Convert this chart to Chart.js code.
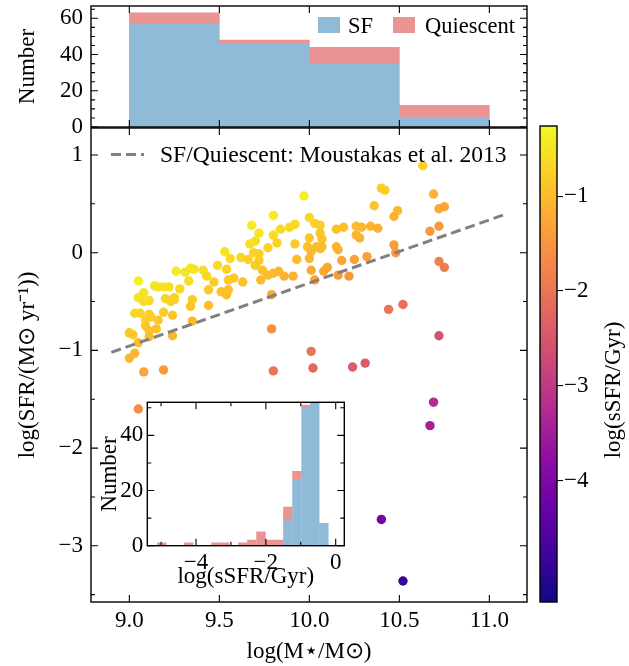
<!DOCTYPE html>
<html>
<head>
<meta charset="utf-8">
<script src="https://cdn.jsdelivr.net/npm/chart.js@4.4.1/dist/chart.umd.min.js"></script>
<style>
body { margin: 0; background: #fff; }
#stack { position: relative; width: 629px; height: 666px; overflow: hidden; }
#stack canvas { position: absolute; left: 0; top: 0; }
</style>
</head>
<body>
<div id="stack">
  <canvas id="cTop" width="629" height="666"></canvas>
  <canvas id="cMain" width="629" height="666"></canvas>
  <canvas id="cBar" width="629" height="666"></canvas>
  <canvas id="cInset" width="629" height="666"></canvas>
</div>
<script>
// 散布図のデータ (log M*, log SFR)
var logMass = [
  9.05, 9.26, 9.31, 9.34, 9.36, 9.41, 9.43, 9.33, 9.47, 9.44,
  9.14, 9.16, 9.19, 9.22, 9.28, 9.08, 9.05, 9.11, 9.08, 9.20,
  9.25, 9.23, 9.25, 9.35, 9.34, 9.44, 9.03, 9.06, 9.11, 9.19,
  9.24, 9.09, 9.12, 9.16, 9.09, 9.15, 9.35, 9.11, 9.00, 9.02,
  9.11, 9.24, 9.05, 9.03, 9.00, 9.08, 9.19,
  9.97, 9.80, 9.68, 9.72, 9.80, 9.84, 9.89, 9.92,
  9.70, 9.67, 9.82, 9.77, 9.92,
  9.53, 9.56, 9.62, 9.66, 9.69, 9.72, 9.72, 9.70, 9.93, 9.49, 9.54, 9.74, 9.77, 9.80, 9.83, 9.86, 9.91,
  9.58, 9.55, 9.63, 9.73,
  9.51, 9.54, 9.55, 9.79, 9.79, 9.80,
  10.40, 10.42, 10.36, 10.49, 10.47, 10.00, 10.03, 10.06, 10.06, 10.07,
  10.00, 10.15, 10.19, 10.26, 10.29, 10.34, 10.38, 10.26, 10.28, 9.99,
  10.01, 10.04, 10.06, 10.07, 10.16, 10.15, 10.00, 10.18, 10.25, 10.32,
  10.47, 10.48, 10.01, 10.08, 10.10, 10.16, 10.22, 10.03, 10.44, 10.52,
  10.01, 10.02, 10.24, 10.31,
  10.63, 10.69, 10.72, 10.75, 10.72, 10.67, 10.72, 10.75, 10.72,
  9.05, 10.69, 10.67, 10.40, 10.52
];
var logSFR = [
  -0.29, -0.19, -0.20, -0.16, -0.17, -0.18, -0.24, -0.29, -0.30, -0.38,
  -0.34, -0.35, -0.35, -0.35, -0.37, -0.41, -0.46, -0.49, -0.50, -0.47,
  -0.46, -0.50, -0.48, -0.48, -0.55, -0.54, -0.62, -0.62, -0.63, -0.61,
  -0.64, -0.69, -0.66, -0.69, -0.75, -0.78, -0.70, -0.80, -0.82, -0.84,
  -0.86, -0.85, -0.92, -1.03, -1.08, -1.22, -1.20,
  0.58, 0.38, 0.28, 0.20, 0.18, 0.24, 0.26, 0.29,
  0.12, 0.09, 0.10, 0.05, 0.09,
  0.01, -0.06, -0.05, -0.07, 0.00, -0.01, -0.08, -0.13, -0.07, -0.13, -0.17, -0.18, -0.23, -0.21, -0.19, -0.24, -0.24,
  -0.26, -0.28, -0.30, -0.28,
  -0.40, -0.43, -0.38, -0.43, -0.78, -1.21,
  0.66, 0.64, 0.48, 0.43, 0.37, 0.36, 0.30, 0.28, 0.20, 0.14,
  0.15, 0.24, 0.26, 0.27, 0.26, 0.27, 0.25, 0.18, 0.15, 0.06,
  0.01, 0.06, 0.04, 0.06, 0.03, 0.06, -0.06, -0.08, -0.07, -0.04,
  0.08, 0.00, -0.18, -0.19, -0.15, -0.23, -0.24, -0.28, -0.58, -0.53,
  -1.01, -1.18, -1.17, -1.13,
  0.89, 0.60, 0.45, 0.47, 0.27, 0.22, -0.09, -0.15, -0.85,
  -1.60, -1.53, -1.77, -2.73, -3.36
];

// SF/Quiescent の境界線 (Moustakas et al. 2013)
var cutMass = [8.90, 11.10];
var cutSFR = [-1.02, 0.40];

// 上のヒストグラム (質量ビン)
var massBins = [9.25, 9.75, 10.25, 10.75];
var massSF = [57, 46, 35, 5];
var massQ = [6, 2, 9, 7];

// 挿入図のヒストグラム (sSFRビン)
var ssfrBins = [-4.98, -4.72, -4.47, -4.21, -3.95, -3.69, -3.43, -3.18, -2.92, -2.66,
                -2.40, -2.14, -1.89, -1.63, -1.37, -1.11, -0.85, -0.60, -0.34];
var ssfrSF = [0, 0, 0, 0, 0, 0, 0, 0, 0, 0, 0, 0, 0, 0, 9, 24, 50, 53, 8];
var ssfrQ  = [1, 0, 0, 1, 0, 0, 1, 1, 0, 1, 2, 5, 2, 2, 5, 3, 1, 0, 0];

// 目盛り
var mainXTicks = [9.0, 9.5, 10.0, 10.5, 11.0];
var mainYTicks = [-3, -2, -1, 0, 1];
var mainYMinor = [-3.5, -2.5, -1.5, -0.5, 0.5];
var topYTicks = [0, 20, 40, 60];
var topYMinor = [5, 10, 15, 25, 30, 35, 45, 50, 55, 65];
var insetXTicks = [-4, -2, 0];
var insetXMinor = [-5, -3, -1];
var insetYTicks = [0, 20, 40];
var insetYMinor = [10, 30, 50];
var cbarTicks = [-4, -3, -2, -1];
var cbarMin = -5.28;
var cbarMax = -0.26;

// plasma カラーマップ
var plasmaStops = ['#0d0887', '#41049d', '#6a00a8', '#8f0da4', '#b12a90', '#cc4778',
                   '#e16462', '#f2844b', '#fca636', '#fcce25', '#f0f921'];
function hex2rgb(h) {
  return [1, 3, 5].map(function(i){ return parseInt(h.substr(i, 2), 16); });
}
function plasma(t) {
  t = Math.min(1, Math.max(0, t));
  var n = plasmaStops.length - 1;
  var f = t * n;
  var i = Math.min(n - 1, Math.floor(f));
  var r = f - i;
  var a = hex2rgb(plasmaStops[i]), b = hex2rgb(plasmaStops[i + 1]);
  return 'rgb(' + a.map(function(v, k){ return Math.round(v + (b[k] - v) * r); }).join(',') + ')';
}

var blue = 'rgb(143,187,217)';
var red = 'rgb(234,147,147)';
var minus = function(v){ return String(v).replace('-', '\u2212'); };
// 目盛りラベルによる余白を消す
var noPad = function(s){ s.paddingTop = 0; s.paddingBottom = 0; s.paddingLeft = 0; s.paddingRight = 0; };

Chart.defaults.font.family = '"Liberation Serif", serif';
Chart.defaults.font.size = 23;
Chart.defaults.color = '#000';
Chart.defaults.animation = false;

// 枠と内向きの目盛りを描くプラグイン
var frameTicks = {
  id: 'frameTicks',
  beforeDatasetsDraw: function(chart, args, o) {
    if (!o.fill) return;
    var a = chart.chartArea, ctx = chart.ctx;
    ctx.save();
    ctx.fillStyle = o.fill;
    ctx.fillRect(a.left, a.top, a.right - a.left, a.bottom - a.top);
    ctx.restore();
  },
  afterDatasetsDraw: function(chart, args, o) {
    var ctx = chart.ctx, a = chart.chartArea;
    var xs = chart.scales.x, ys = chart.scales.y;
    ctx.save();
    ctx.strokeStyle = '#000';
    ctx.lineWidth = 1.1;
    ctx.beginPath();
    function xMarks(vals, len) {
      (vals || []).forEach(function(v){
        var p = xs.getPixelForValue(v);
        ctx.moveTo(p, a.bottom); ctx.lineTo(p, a.bottom - len);
        ctx.moveTo(p, a.top); ctx.lineTo(p, a.top + len);
      });
    }
    function yMarks(vals, len) {
      (vals || []).forEach(function(v){
        var p = ys.getPixelForValue(v);
        ctx.moveTo(a.left, p); ctx.lineTo(a.left + len, p);
        ctx.moveTo(a.right, p); ctx.lineTo(a.right - len, p);
      });
    }
    xMarks(o.xMajor, 7); xMarks(o.xMinor, 4);
    yMarks(o.yMajor, 7); yMarks(o.yMinor, 4);
    ctx.stroke();
    ctx.lineWidth = 1.4;
    ctx.strokeRect(a.left, a.top, a.right - a.left, a.bottom - a.top);
    ctx.restore();
  }
};

// 図の中の凡例と文字
var notes = {
  id: 'notes',
  afterDraw: function(chart, args, o) {
    var ctx = chart.ctx;
    (o.items || []).forEach(function(it){
      ctx.save();
      if (it.kind === 'line') {
        ctx.strokeStyle = it.color; ctx.lineWidth = it.width; ctx.setLineDash(it.dash);
        ctx.beginPath(); ctx.moveTo(it.x0, it.y); ctx.lineTo(it.x1, it.y); ctx.stroke();
      } else if (it.kind === 'box') {
        ctx.fillStyle = it.color; ctx.fillRect(it.x, it.y, it.w, it.h);
      } else {
        ctx.fillStyle = '#000';
        ctx.font = (it.size || 23) + 'px "Liberation Serif", serif';
        ctx.textAlign = it.align || 'left';
        ctx.textBaseline = it.baseline || 'alphabetic';
        ctx.translate(it.x, it.y);
        if (it.rot) ctx.rotate(it.rot);
        ctx.fillText(it.text, 0, 0);
      }
      ctx.restore();
    });
  }
};

// 上：質量ヒストグラム
new Chart(document.getElementById('cTop'), {
  type: 'bar',
  data: {
    datasets: [
      { label: 'SF', data: massBins.map(function(c, i){ return {x: c, y: massSF[i]}; }),
        backgroundColor: blue, borderWidth: 0, barPercentage: 1, categoryPercentage: 1 },
      { label: 'Quiescent', data: massBins.map(function(c, i){ return {x: c, y: massQ[i]}; }),
        backgroundColor: red, borderWidth: 0, barPercentage: 1, categoryPercentage: 1 }
    ]
  },
  options: {
    responsive: false,
    layout: { padding: { left: 0, top: 6, right: 102, bottom: 539 } },
    scales: {
      x: { type: 'linear', min: 8.787, max: 11.209, stacked: true, offset: false, display: false },
      y: { min: 0, max: 66.8, stacked: true,
           afterBuildTicks: function(s){ s.ticks = topYTicks.map(function(v){ return {value: v}; }); },
           afterFit: function(s){ s.width = 91; noPad(s); },
           grid: { display: false, drawTicks: false }, border: { display: false },
           ticks: { padding: 8 },
           title: { display: true, text: 'Number', padding: { top: 14, bottom: 0 } } }
    },
    plugins: {
      legend: { display: false }, tooltip: { enabled: false },
      frameTicks: { xMajor: mainXTicks, yMajor: topYTicks, yMinor: topYMinor },
      notes: { items: [
        { kind: 'box', color: blue, x: 318, y: 17, w: 22, h: 16 },
        { kind: 'text', text: 'SF', x: 348, y: 33, size: 22.5 },
        { kind: 'box', color: red, x: 393, y: 17, w: 22, h: 16 },
        { kind: 'text', text: 'Quiescent', x: 425, y: 33, size: 22.5 }
      ] }
    }
  },
  plugins: [frameTicks, notes]
});

// 中央：散布図
var sSFR = logMass.map(function(m, i){ return logSFR[i] - m + 9; });
new Chart(document.getElementById('cMain'), {
  type: 'scatter',
  data: {
    datasets: [
      { label: 'SF/Quiescent: Moustakas et al. 2013', showLine: true,
        data: cutMass.map(function(m, i){ return {x: m, y: cutSFR[i]}; }),
        borderColor: 'rgb(128,128,128)', borderWidth: 3, borderDash: [10, 5], pointRadius: 0 },
      { label: 'galaxies',
        data: logMass.map(function(m, i){ return {x: m, y: logSFR[i]}; }),
        backgroundColor: sSFR.map(function(s){ return plasma((s - cbarMin) / (cbarMax - cbarMin)); }),
        borderWidth: 0, pointRadius: 4.7 }
    ]
  },
  options: {
    responsive: false,
    layout: { padding: { left: 0, top: 128, right: 102, bottom: 0 } },
    scales: {
      x: { min: 8.787, max: 11.209,
           afterBuildTicks: function(s){ s.ticks = mainXTicks.map(function(v){ return {value: v}; }); },
           afterFit: function(s){ s.height = 64; noPad(s); },
           grid: { display: false, drawTicks: false }, border: { display: false },
           ticks: { padding: 5, callback: function(v){ return v.toFixed(1); } },
           title: { display: true, text: 'log(M\u22c6/M\u2299)', padding: { top: 0, bottom: 0 } } },
      y: { min: -3.575, max: 1.276,
           afterBuildTicks: function(s){ s.ticks = mainYTicks.map(function(v){ return {value: v}; }); },
           afterFit: function(s){ s.width = 91; noPad(s); },
           grid: { display: false, drawTicks: false }, border: { display: false },
           ticks: { padding: 8, callback: minus },
           title: { display: true, text: 'log(SFR/(M\u2299 yr\u207b\u00b9))', padding: { top: 14, bottom: 0 } } }
    },
    plugins: {
      legend: { display: false }, tooltip: { enabled: false },
      frameTicks: { xMajor: mainXTicks, yMajor: mainYTicks, yMinor: mainYMinor },
      notes: { items: [
        { kind: 'line', color: 'rgb(128,128,128)', width: 3, dash: [10, 5], x0: 111, x1: 144, y: 154.5 },
        { kind: 'text', text: 'SF/Quiescent: Moustakas et al. 2013', x: 160, y: 162, size: 23.6 }
      ] }
    }
  },
  plugins: [frameTicks, notes]
});

// 右：カラーバー
new Chart(document.getElementById('cBar'), {
  type: 'bar',
  data: {
    labels: [''],
    datasets: [{
      data: [[cbarMin, cbarMax]],
      backgroundColor: function(c){
        var area = c.chart.chartArea;
        if (!area) return null;
        var g = c.chart.ctx.createLinearGradient(0, area.bottom, 0, area.top);
        plasmaStops.forEach(function(col, i){ g.addColorStop(i / (plasmaStops.length - 1), col); });
        return g;
      },
      borderWidth: 0, barPercentage: 1, categoryPercentage: 1
    }]
  },
  options: {
    responsive: false,
    layout: { padding: { left: 540, top: 126, right: 0, bottom: 64 } },
    scales: {
      x: { display: false },
      y: { position: 'right', min: cbarMin, max: cbarMax,
           afterBuildTicks: function(s){ s.ticks = cbarTicks.map(function(v){ return {value: v}; }); },
           afterFit: function(s){ s.width = 72; noPad(s); },
           grid: { drawOnChartArea: false, drawTicks: true, tickLength: 6, color: '#000', lineWidth: 1.1 },
           border: { display: false },
           ticks: { padding: 1, callback: minus } }
    },
    plugins: {
      legend: { display: false }, tooltip: { enabled: false },
      frameTicks: {},
      notes: { items: [
        { kind: 'text', text: 'log(sSFR/Gyr)', x: 614, y: 390, rot: -Math.PI / 2,
          align: 'center', baseline: 'middle', size: 23 }
      ] }
    }
  },
  plugins: [frameTicks, notes]
});

// 挿入図：sSFRヒストグラム
new Chart(document.getElementById('cInset'), {
  type: 'bar',
  data: {
    datasets: [
      { label: 'SF', data: ssfrBins.map(function(c, i){ return {x: c, y: ssfrSF[i]}; }),
        backgroundColor: blue, borderWidth: 0, barPercentage: 1, categoryPercentage: 1 },
      { label: 'Quiescent', data: ssfrBins.map(function(c, i){ return {x: c, y: ssfrQ[i]}; }),
        backgroundColor: red, borderWidth: 0, barPercentage: 1, categoryPercentage: 1 }
    ]
  },
  options: {
    responsive: false,
    layout: { padding: { left: 95, top: 402.3, right: 284.7, bottom: 71 } },
    scales: {
      x: { type: 'linear', min: -5.394, max: 0.246, stacked: true, offset: false,
           afterBuildTicks: function(s){ s.ticks = insetXTicks.map(function(v){ return {value: v}; }); },
           afterFit: function(s){ s.height = 49.3; noPad(s); },
           grid: { display: false, drawTicks: false }, border: { display: false },
           ticks: { padding: 3, callback: minus },
           title: { display: true, text: 'log(sSFR/Gyr)', padding: { top: 0, bottom: 4 } } },
      y: { min: 0, max: 52, stacked: true,
           afterBuildTicks: function(s){ s.ticks = insetYTicks.map(function(v){ return {value: v}; }); },
           afterFit: function(s){ s.width = 52.3; noPad(s); },
           grid: { display: false, drawTicks: false }, border: { display: false },
           ticks: { padding: 4 },
           title: { display: true, text: 'Number', padding: { top: 1, bottom: 0 } } }
    },
    plugins: {
      legend: { display: false }, tooltip: { enabled: false },
      frameTicks: { fill: '#fff', xMajor: insetXTicks, xMinor: insetXMinor,
                    yMajor: insetYTicks, yMinor: insetYMinor }
    }
  },
  plugins: [frameTicks]
});
</script>
</body>
</html>
